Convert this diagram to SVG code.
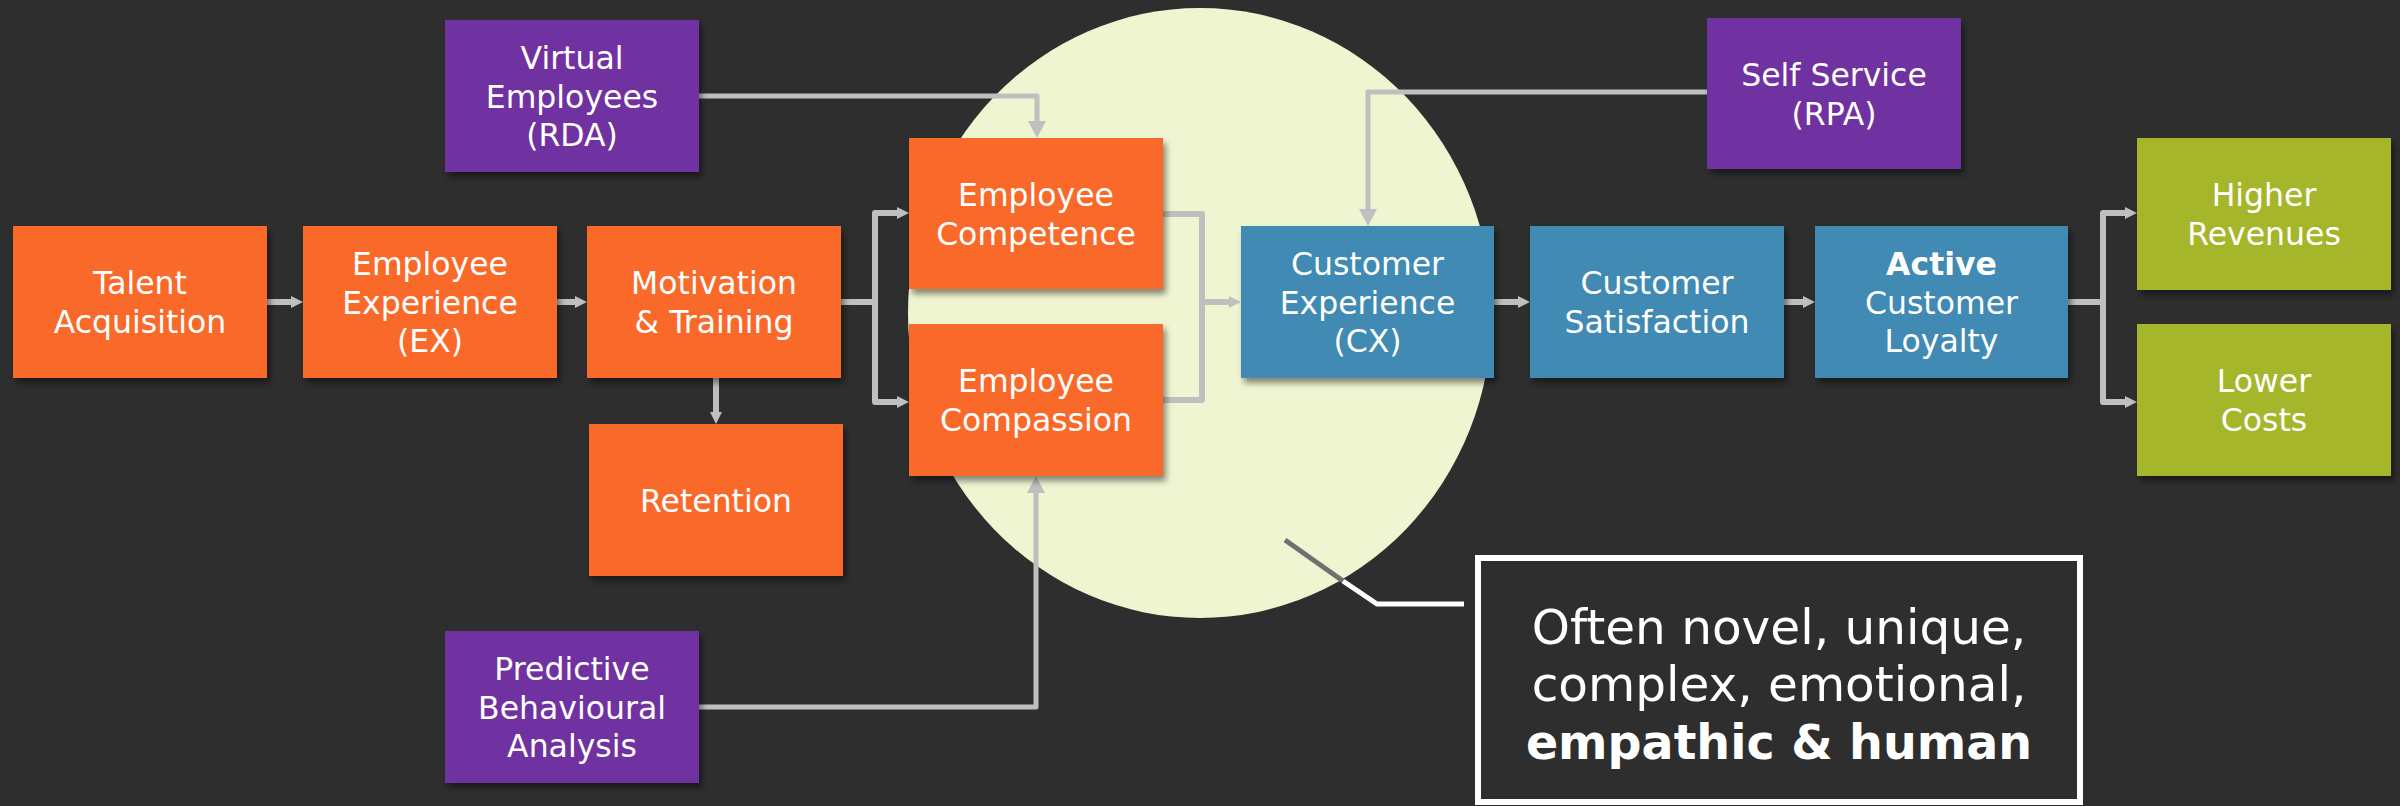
<svg xmlns="http://www.w3.org/2000/svg" width="2400" height="806" viewBox="0 0 2400 806">
  <style>
    .box { filter: url(#shadow); }
    .orange { fill: #F96B2A; }
    .purple { fill: #7030A0; }
    .blue { fill: #418AB3; }
    .green { fill: #A5B629; }
    .lbl { font-family: "DejaVu Sans", Verdana, sans-serif; font-size: 31.5px; fill: #FFFFFF; text-anchor: middle; }
    .b { font-weight: bold; }
    .flow { fill: none; stroke: #BFBFBF; stroke-width: 6; stroke-linejoin: round; }
    .feed { fill: none; stroke: #BFBFBF; stroke-width: 5; stroke-linejoin: round; }
    .note { font-family: "DejaVu Sans", Verdana, sans-serif; font-size: 48.5px; fill: #FFFFFF; text-anchor: middle; }
    .note.b { font-size: 47.5px; }
  </style>
  <defs>
    <filter id="shadow" x="-10%" y="-10%" width="130%" height="130%">
      <feDropShadow dx="3" dy="5" stdDeviation="3" flood-color="#000000" flood-opacity="0.45"/>
    </filter>
    <marker id="arr" markerUnits="userSpaceOnUse" markerWidth="12" markerHeight="12" refX="2" refY="6" orient="auto">
      <path d="M0,0 L12,6 L0,12 z" fill="#BFBFBF"/>
    </marker>
    <marker id="arrBig" markerUnits="userSpaceOnUse" markerWidth="17" markerHeight="18" refX="3" refY="9" orient="auto">
      <path d="M0,0 L17,9 L0,18 z" fill="#BFBFBF"/>
    </marker>
  </defs>

  <!-- background -->
  <rect x="0" y="0" width="2400" height="806" fill="#2E2E2E"/>

  <!-- highlight disc behind the employee/customer interface -->
  <ellipse cx="1200" cy="313" rx="292" ry="305" fill="#F0F5D1"/>

  <!-- connectors -->
  <g id="connectors">
    <line class="flow" x1="267" y1="302" x2="293" y2="302" marker-end="url(#arr)"/>
    <line class="flow" x1="556" y1="302" x2="577" y2="302" marker-end="url(#arr)"/>
    <path class="flow" d="M841,302 H875"/>
    <path class="flow" d="M875,302 V213 H899" marker-end="url(#arr)"/>
    <path class="flow" d="M875,302 V402 H899" marker-end="url(#arr)"/>
    <line class="flow" x1="716" y1="378" x2="716" y2="414" marker-end="url(#arr)"/>
    <path class="flow" d="M1163,214 H1202 V400 H1163"/>
    <line class="flow" x1="1202" y1="302" x2="1231" y2="302" marker-end="url(#arr)"/>
    <line class="flow" x1="1494" y1="302" x2="1520" y2="302" marker-end="url(#arr)"/>
    <line class="flow" x1="1784" y1="302" x2="1805" y2="302" marker-end="url(#arr)"/>
    <path class="flow" d="M2068,302 H2103"/>
    <path class="flow" d="M2103,302 V213 H2127" marker-end="url(#arr)"/>
    <path class="flow" d="M2103,302 V402 H2127" marker-end="url(#arr)"/>
    <path class="feed" d="M699,96 H1037 V124" marker-end="url(#arrBig)"/>
    <path class="feed" d="M1707,92 H1368 V212" marker-end="url(#arrBig)"/>
    <path class="feed" d="M699,707 H1036 V490" marker-end="url(#arrBig)"/>
  </g>

  <!-- employee side -->
  <g id="talent-acquisition">
    <rect class="box orange" x="13" y="226" width="254" height="152"/>
    <text class="lbl" x="140" y="294">Talent</text>
    <text class="lbl" x="140" y="332.5">Acquisition</text>
  </g>
  <g id="employee-experience">
    <rect class="box orange" x="303" y="226" width="254" height="152"/>
    <text class="lbl" x="430" y="275">Employee</text>
    <text class="lbl" x="430" y="313.5">Experience</text>
    <text class="lbl" x="430" y="352">(EX)</text>
  </g>
  <g id="motivation-training">
    <rect class="box orange" x="587" y="226" width="254" height="152"/>
    <text class="lbl" x="714" y="294">Motivation</text>
    <text class="lbl" x="714" y="332.5">&amp; Training</text>
  </g>
  <g id="retention">
    <rect class="box orange" x="589" y="424" width="254" height="152"/>
    <text class="lbl" x="716" y="511.5">Retention</text>
  </g>
  <g id="virtual-employees">
    <rect class="box purple" x="445" y="20" width="254" height="152"/>
    <text class="lbl" x="572" y="69">Virtual</text>
    <text class="lbl" x="572" y="107.5">Employees</text>
    <text class="lbl" x="572" y="146">(RDA)</text>
  </g>
  <g id="predictive-behavioural-analysis">
    <rect class="box purple" x="445" y="631" width="254" height="152"/>
    <text class="lbl" x="572" y="680">Predictive</text>
    <text class="lbl" x="572" y="718.5">Behavioural</text>
    <text class="lbl" x="572" y="757">Analysis</text>
  </g>
  <g id="employee-competence">
    <rect class="box orange" x="909" y="138" width="254" height="151"/>
    <text class="lbl" x="1036" y="206">Employee</text>
    <text class="lbl" x="1036" y="244.5">Competence</text>
  </g>
  <g id="employee-compassion">
    <rect class="box orange" x="909" y="324" width="254" height="152"/>
    <text class="lbl" x="1036" y="392">Employee</text>
    <text class="lbl" x="1036" y="430.5">Compassion</text>
  </g>

  <!-- customer side -->
  <g id="customer-experience">
    <rect class="box blue" x="1241" y="226" width="253" height="152"/>
    <text class="lbl" x="1367.5" y="275">Customer</text>
    <text class="lbl" x="1367.5" y="313.5">Experience</text>
    <text class="lbl" x="1367.5" y="352">(CX)</text>
  </g>
  <g id="customer-satisfaction">
    <rect class="box blue" x="1530" y="226" width="254" height="152"/>
    <text class="lbl" x="1657" y="294">Customer</text>
    <text class="lbl" x="1657" y="332.5">Satisfaction</text>
  </g>
  <g id="active-customer-loyalty">
    <rect class="box blue" x="1815" y="226" width="253" height="152"/>
    <text class="lbl b" x="1941.5" y="275">Active</text>
    <text class="lbl" x="1941.5" y="313.5">Customer</text>
    <text class="lbl" x="1941.5" y="352">Loyalty</text>
  </g>
  <g id="self-service">
    <rect class="box purple" x="1707" y="18" width="254" height="151"/>
    <text class="lbl" x="1834" y="86">Self Service</text>
    <text class="lbl" x="1834" y="124.5">(RPA)</text>
  </g>
  <g id="higher-revenues">
    <rect class="box green" x="2137" y="138" width="254" height="152"/>
    <text class="lbl" x="2264" y="206">Higher</text>
    <text class="lbl" x="2264" y="244.5">Revenues</text>
  </g>
  <g id="lower-costs">
    <rect class="box green" x="2137" y="324" width="254" height="152"/>
    <text class="lbl" x="2264" y="392">Lower</text>
    <text class="lbl" x="2264" y="430.5">Costs</text>
  </g>

  <!-- callout -->
  <g id="callout">
    <line x1="1285" y1="540" x2="1343" y2="581" stroke="#707070" stroke-width="5"/>
    <path d="M1343,581 L1377,604 H1464" fill="none" stroke="#FFFFFF" stroke-width="5"/>
    <rect x="1478" y="558" width="602" height="244" fill="#2E2E2E" stroke="#FFFFFF" stroke-width="6"/>
    <text class="note" x="1779" y="644">Often novel, unique,</text>
    <text class="note" x="1779" y="701">complex, emotional,</text>
    <text class="note b" x="1779" y="759">empathic &amp; human</text>
  </g>
</svg>
